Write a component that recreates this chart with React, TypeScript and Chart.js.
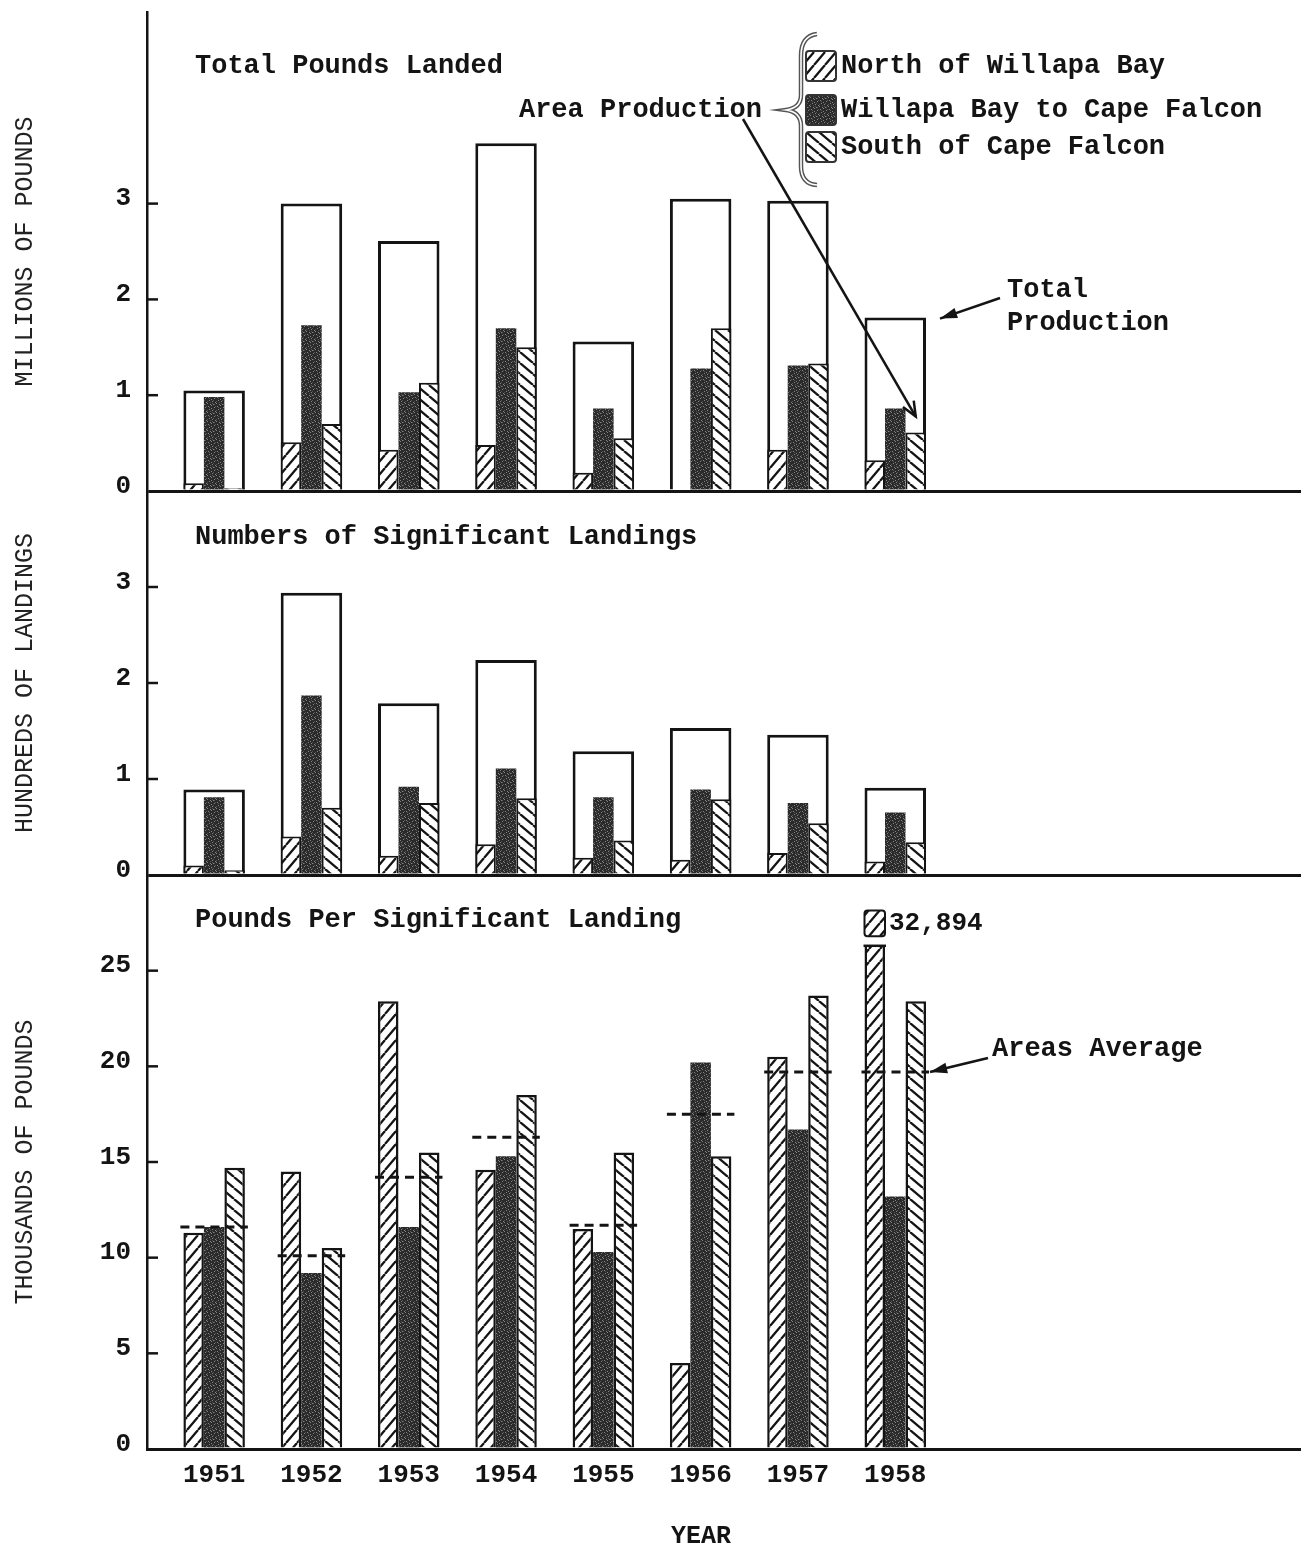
import React, { useEffect, useRef } from 'react';
import { Chart, registerables } from 'chart.js';

Chart.register(...registerables);

const years = [1951, 1952, 1953, 1954, 1955, 1956, 1957, 1958];
const areaLabels = ['North of Willapa Bay', 'Willapa Bay to Cape Falcon', 'South of Cape Falcon'];

// Total pounds landed (millions of pounds)
const poundsTotal = [1.05, 3.0, 2.61, 3.63, 1.56, 3.05, 3.03, 1.81];
const poundsNorth = [0.08, 0.51, 0.43, 0.48, 0.19, 0, 0.43, 0.32];
const poundsWillapa = [0.98, 1.73, 1.03, 1.7, 0.86, 1.28, 1.31, 0.86];
const poundsSouth = [0.03, 0.7, 1.13, 1.5, 0.55, 1.7, 1.33, 0.61];

// Numbers of significant landings (hundreds)
const landingsTotal = [0.89, 2.94, 1.79, 2.24, 1.29, 1.53, 1.46, 0.91];
const landingsNorth = [0.1, 0.4, 0.2, 0.32, 0.18, 0.16, 0.23, 0.14];
const landingsWillapa = [0.81, 1.87, 0.92, 1.11, 0.81, 0.89, 0.75, 0.65];
const landingsSouth = [0.05, 0.7, 0.75, 0.8, 0.36, 0.79, 0.54, 0.34];

// Pounds per significant landing (thousands of pounds)
const perLandingNorth = [11.3, 14.5, 23.4, 14.6, 11.5, 4.5, 20.5, 32.894];
const perLandingWillapa = [11.6, 9.2, 11.6, 15.3, 10.3, 20.2, 16.7, 13.2];
const perLandingSouth = [14.7, 10.5, 15.5, 18.5, 15.5, 15.3, 23.7, 23.4];
const perLandingAverage = [11.6, 10.1, 14.2, 16.3, 11.7, 17.5, 19.7, 19.7];

// The 1958 north bar runs off the scale: it is cut here and its value written above it
const offScaleLabel = '32,894';
const offScaleBreak = 26.3;

// Labelled ticks on each panel's axis
const poundsTickLabels = [0, 1, 2, 3];
const landingsTickLabels = [0, 1, 2, 3];
const perLandingTickLabels = [0, 5, 10, 15, 20, 25];

const panelTitles = ['Total Pounds Landed', 'Numbers of Significant Landings', 'Pounds Per Significant Landing'];
const axisTitles = ['MILLIONS OF POUNDS', 'HUNDREDS OF LANDINGS', 'THOUSANDS OF POUNDS'];

const FONT = "'Liberation Mono', 'DejaVu Sans Mono', monospace";
const INK = '#141414';

function makeHatch(w: number, h: number, rising: boolean): CanvasPattern {
  const c = document.createElement('canvas');
  c.width = w;
  c.height = h;
  const g = c.getContext('2d')!;
  g.fillStyle = '#ffffff';
  g.fillRect(0, 0, w, h);
  g.strokeStyle = INK;
  g.lineWidth = 2.3;
  g.beginPath();
  for (let k = -1; k <= 1; k++) {
    if (rising) {
      g.moveTo(k * w, h);
      g.lineTo((k + 1) * w, 0);
    } else {
      g.moveTo(k * w, 0);
      g.lineTo((k + 1) * w, h);
    }
  }
  g.stroke();
  return g.createPattern(c, 'repeat')!;
}

function makeStipple(): CanvasPattern {
  const c = document.createElement('canvas');
  c.width = 9;
  c.height = 9;
  const g = c.getContext('2d')!;
  g.fillStyle = '#2a2a2a';
  g.fillRect(0, 0, 9, 9);
  const light = [[1, 1], [4, 0], [7, 2], [2, 4], [5, 5], [8, 6], [0, 7], [3, 8], [6, 8], [4, 3]];
  const mid = [[2, 2], [6, 4], [0, 5], [5, 7], [8, 1], [3, 6], [7, 8]];
  g.fillStyle = '#858585';
  light.forEach(([x, y]) => g.fillRect(x, y, 1, 1));
  g.fillStyle = '#555555';
  mid.forEach(([x, y]) => g.fillRect(x, y, 1, 1));
  return g.createPattern(c, 'repeat')!;
}

function drawArrow(ctx: CanvasRenderingContext2D, x0: number, y0: number, x1: number, y1: number, head: number, filled: boolean) {
  ctx.save();
  ctx.strokeStyle = INK;
  ctx.fillStyle = INK;
  ctx.lineWidth = 2.5;
  ctx.beginPath();
  ctx.moveTo(x0, y0);
  ctx.lineTo(x1, y1);
  ctx.stroke();
  const a = Math.atan2(y1 - y0, x1 - x0);
  const spread = filled ? 0.3 : 0.4;
  ctx.beginPath();
  ctx.moveTo(x1 - head * Math.cos(a - spread), y1 - head * Math.sin(a - spread));
  ctx.lineTo(x1, y1);
  ctx.lineTo(x1 - head * Math.cos(a + spread), y1 - head * Math.sin(a + spread));
  if (filled) {
    ctx.closePath();
    ctx.fill();
  } else {
    ctx.stroke();
  }
  ctx.restore();
}

export default function App() {
  const canvasRef = useRef<HTMLCanvasElement>(null);

  useEffect(() => {
    const northFill = makeHatch(11, 13, true);
    const southFill = makeHatch(13, 11, false);
    const willapaFill = makeStipple();

    const pts = (vals: number[]) => years.map((x, i) => ({ x, y: vals[i] }));

    const areaSet = (label: string, vals: number[], axis: string, stack: string, fill: CanvasPattern, border: number) => ({
      type: 'bar' as const,
      label,
      data: pts(vals),
      xAxisID: 'x',
      yAxisID: axis,
      stack,
      order: 0,
      categoryPercentage: 0.632,
      barPercentage: 1,
      backgroundColor: fill,
      borderColor: INK,
      borderWidth: border,
      borderSkipped: 'start' as const,
    });

    const totalSet = (label: string, vals: number[], axis: string) => ({
      type: 'bar' as const,
      label,
      data: pts(vals),
      xAxisID: 'x',
      yAxisID: axis,
      grouped: false,
      order: 1,
      categoryPercentage: 1,
      barPercentage: 0.632,
      backgroundColor: '#ffffff',
      borderColor: INK,
      borderWidth: 3,
      borderSkipped: 'start' as const,
    });

    const datasets: any[] = [
      areaSet(areaLabels[0], poundsNorth, 'y1', 'north', northFill, 2),
      areaSet(areaLabels[1], poundsWillapa, 'y1', 'willapa', willapaFill, 0),
      areaSet(areaLabels[2], poundsSouth, 'y1', 'south', southFill, 2),
      totalSet('Total Production', poundsTotal, 'y1'),
      areaSet(areaLabels[0], landingsNorth, 'y2', 'north', northFill, 2),
      areaSet(areaLabels[1], landingsWillapa, 'y2', 'willapa', willapaFill, 0),
      areaSet(areaLabels[2], landingsSouth, 'y2', 'south', southFill, 2),
      totalSet('Total Landings', landingsTotal, 'y2'),
      areaSet(areaLabels[0], perLandingNorth, 'y3', 'north', northFill, 2.5),
      areaSet(areaLabels[1], perLandingWillapa, 'y3', 'willapa', willapaFill, 0),
      areaSet(areaLabels[2], perLandingSouth, 'y3', 'south', southFill, 2.5),
    ];

    const valueAxis = (max: number, step: number, weightPx: number, order: number, labels: number[], title: string) => ({
      type: 'linear' as const,
      position: 'left' as const,
      stack: 'panels',
      stackWeight: weightPx,
      weight: order,
      stacked: false,
      min: 0,
      max,
      afterFit: (s: any) => {
        s.width = 147;
        s.paddingTop = 0;
        s.paddingBottom = 0;
      },
      ticks: {
        stepSize: step,
        padding: 16,
        labelOffset: -5,
        color: INK,
        font: { family: FONT, size: 26, weight: 'bold' as const },
        callback: (v: any) => (labels.includes(Number(v)) ? String(v) : ''),
      },
      grid: {
        drawTicks: false,
        z: 1,
        lineWidth: 3,
        color: (c: any) => (c.tick && c.tick.value === 0 ? INK : 'rgba(0,0,0,0)'),
      },
      border: { display: true, color: INK, width: 2.5, z: 1 },
      title: {
        display: true,
        text: title,
        color: '#222',
        padding: { top: 10, bottom: 0 },
        font: { family: FONT, size: 25, weight: 'normal' as const },
      },
    });

    const decorations = {
      id: 'decorations',
      beforeDraw(chart: any) {
        const ctx = chart.ctx;
        ctx.save();
        ctx.fillStyle = '#ffffff';
        ctx.fillRect(0, 0, chart.width, chart.height);
        ctx.restore();
      },
      beforeDatasetDraw(chart: any, args: any) {
        // keep each panel's bars inside its own band
        const ys = args.meta.yScale;
        const ca = chart.chartArea;
        const ctx = chart.ctx;
        ctx.save();
        ctx.beginPath();
        ctx.rect(ca.left, ys.top - 1, ca.right - ca.left, ys.bottom - ys.top + 2);
        ctx.clip();
      },
      afterDatasetDraw(chart: any) {
        chart.ctx.restore();
      },
      afterDatasetsDraw(chart: any) {
        const ctx = chart.ctx;
        const y3 = chart.scales.y3;
        const northMeta = chart.getDatasetMeta(8);
        const southMeta = chart.getDatasetMeta(10);

        // off-scale bar: cut at the break, with a stub and its value above
        const el = northMeta.data[7];
        const { x, width } = el.getProps(['x', 'width'], true);
        const yb = y3.getPixelForValue(offScaleBreak);
        ctx.save();
        ctx.fillStyle = '#ffffff';
        ctx.fillRect(x - width / 2 - 3, y3.top + 2, width + 6, yb - y3.top - 2);
        ctx.strokeStyle = INK;
        ctx.lineWidth = 2.5;
        ctx.beginPath();
        ctx.moveTo(x - width / 2 - 1, yb);
        ctx.lineTo(x + width / 2 + 1, yb);
        ctx.stroke();
        const s0 = y3.getPixelForValue(offScaleBreak + 0.5);
        const s1 = y3.getPixelForValue(offScaleBreak + 1.85);
        ctx.fillStyle = northFill;
        ctx.beginPath();
        ctx.roundRect(x - width / 2, s1, width, s0 - s1, 3);
        ctx.fill();
        ctx.lineWidth = 2;
        ctx.stroke();
        ctx.fillStyle = INK;
        ctx.font = `bold 26px ${FONT}`;
        ctx.textAlign = 'left';
        ctx.textBaseline = 'middle';
        ctx.fillText(offScaleLabel, x + width / 2 + 4, (s0 + s1) / 2);

        // areas average: dashed line across each year's group
        ctx.setLineDash([9, 6]);
        ctx.lineWidth = 3;
        ctx.strokeStyle = INK;
        perLandingAverage.forEach((v, i) => {
          const n = northMeta.data[i].getProps(['x', 'width'], true);
          const s = southMeta.data[i].getProps(['x', 'width'], true);
          const y = y3.getPixelForValue(v);
          ctx.beginPath();
          ctx.moveTo(n.x - n.width / 2 - 3, y);
          ctx.lineTo(s.x + s.width / 2 + 3, y);
          ctx.stroke();
        });
        ctx.restore();
      },
      afterDraw(chart: any) {
        const ctx = chart.ctx;
        const ca = chart.chartArea;
        ctx.save();

        // short tick marks inside the vertical axis
        ctx.strokeStyle = INK;
        ctx.lineWidth = 2.5;
        [
          ['y1', poundsTickLabels],
          ['y2', landingsTickLabels],
          ['y3', perLandingTickLabels],
        ].forEach(([id, labels]: any) => {
          const sc = chart.scales[id];
          labels.forEach((v: number) => {
            if (v === 0) return;
            const y = sc.getPixelForValue(v);
            ctx.beginPath();
            ctx.moveTo(ca.left, y);
            ctx.lineTo(ca.left + 11, y);
            ctx.stroke();
          });
        });

        // panel titles
        ctx.fillStyle = INK;
        ctx.font = `bold 27px ${FONT}`;
        ctx.textAlign = 'left';
        ctx.textBaseline = 'middle';
        ctx.fillText(panelTitles[0], 195, 66);
        ctx.fillText(panelTitles[1], 195, 537);
        ctx.fillText(panelTitles[2], 195, 920);

        // legend
        const fills = [northFill, willapaFill, southFill];
        const rowY = [66, 110, 147];
        rowY.forEach((cy, i) => {
          ctx.fillStyle = fills[i];
          ctx.beginPath();
          ctx.roundRect(806, cy - 15, 30, 30, 3);
          ctx.fill();
          ctx.strokeStyle = '#333';
          ctx.lineWidth = 2;
          ctx.stroke();
          ctx.fillStyle = INK;
          ctx.fillText(areaLabels[i], 841, cy);
        });

        // brace grouping the legend
        const brace = () => {
          ctx.beginPath();
          ctx.moveTo(817, 34);
          ctx.quadraticCurveTo(801, 36, 801, 56);
          ctx.lineTo(801, 95);
          ctx.quadraticCurveTo(801, 108, 786, 110);
          ctx.quadraticCurveTo(801, 112, 801, 126);
          ctx.lineTo(801, 166);
          ctx.quadraticCurveTo(801, 184, 817, 185);
          ctx.stroke();
        };
        ctx.strokeStyle = '#555';
        ctx.lineWidth = 4.5;
        brace();
        ctx.strokeStyle = '#ffffff';
        ctx.lineWidth = 1.6;
        brace();

        // Area Production callout
        ctx.fillStyle = INK;
        ctx.textAlign = 'right';
        ctx.fillText('Area Production', 762, 110);
        const south58 = chart.getDatasetMeta(2).data[7].getProps(['x', 'y'], true);
        drawArrow(ctx, 743, 119, south58.x, south58.y - 16, 16, false);

        // Total Production callout
        const total58 = chart.getDatasetMeta(3).data[7].getProps(['x', 'y', 'width'], true);
        ctx.textAlign = 'left';
        ctx.fillText('Total', 1007, 290);
        ctx.fillText('Production', 1007, 323);
        drawArrow(ctx, 1000, 298, total58.x + total58.width / 2 + 14, total58.y + 1, 18, true);

        // Areas Average callout
        const y3 = chart.scales.y3;
        const s3 = chart.getDatasetMeta(10).data[7].getProps(['x', 'width'], true);
        ctx.fillText('Areas Average', 992, 1049);
        drawArrow(ctx, 988, 1058, s3.x + s3.width / 2 + 4, y3.getPixelForValue(perLandingAverage[7]), 18, true);

        // x axis title
        ctx.font = `bold 25px ${FONT}`;
        ctx.textAlign = 'center';
        ctx.fillText('YEAR', 701, 1537);

        ctx.restore();
      },
    };

    const chart = new Chart(canvasRef.current!, {
      type: 'bar',
      data: { datasets },
      options: {
        responsive: false,
        animation: false,
        layout: { padding: { top: 12, right: 0, bottom: 0, left: 0 } },
        plugins: {
          legend: { display: false },
          tooltip: { enabled: false },
        },
        scales: {
          x: {
            type: 'linear',
            position: 'bottom',
            min: 1950.31,
            max: 1962.17,
            offset: false,
            afterBuildTicks: (s: any) => {
              s.ticks = years.map((v) => ({ value: v }));
            },
            afterFit: (s: any) => {
              s.height = 100;
              s.paddingLeft = 0;
              s.paddingRight = 0;
            },
            ticks: {
              autoSkip: false,
              maxRotation: 0,
              padding: 11,
              color: INK,
              font: { family: FONT, size: 26, weight: 'bold' },
              callback: (v: any) => String(v),
            },
            grid: { display: false, drawTicks: false },
            border: { display: true, color: INK, width: 3, z: 1 },
          },
          y1: valueAxis(5, 1, 479, 3, poundsTickLabels, axisTitles[0]),
          y2: valueAxis(4, 1, 384, 2, landingsTickLabels, axisTitles[1]),
          y3: valueAxis(30, 5, 574, 1, perLandingTickLabels, axisTitles[2]),
        } as any,
      },
      plugins: [decorations],
    });

    return () => chart.destroy();
  }, []);

  return (
    <div style={{ position: 'absolute', left: 0, top: 0, width: 1301, height: 1549, background: '#fff' }}>
      <canvas ref={canvasRef} width={1301} height={1549} style={{ display: 'block' }} />
    </div>
  );
}
